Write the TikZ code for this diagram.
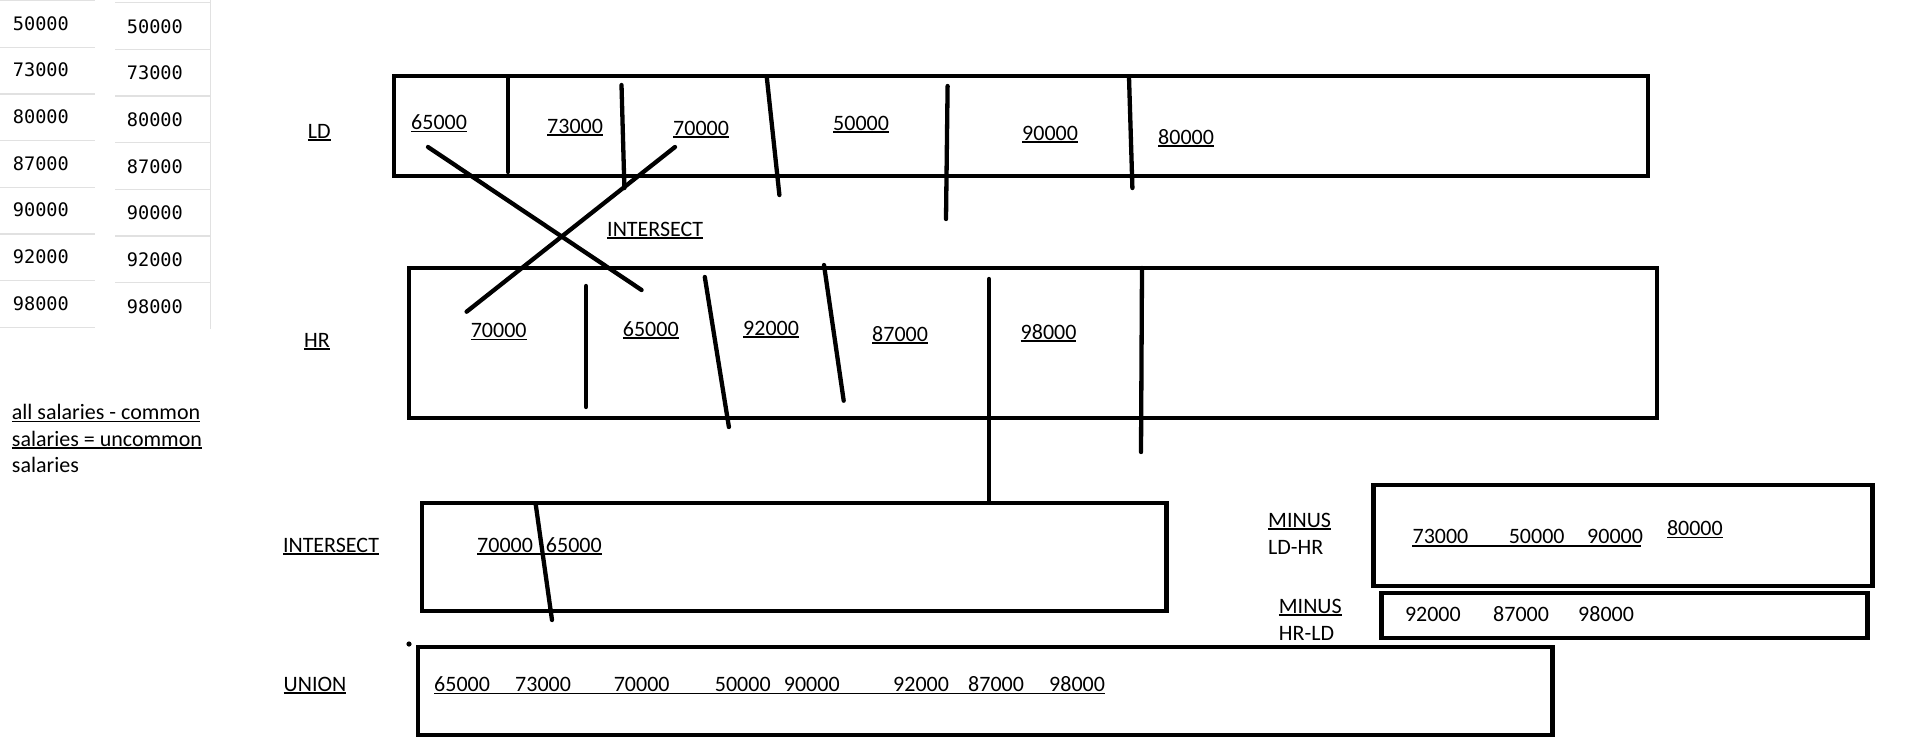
\documentclass[tikz,border=0pt]{standalone}
\usepackage{fontspec}
\setmainfont{Carlito}
\newfontfamily\monof{DejaVu Sans Mono}
\definecolor{tblline}{HTML}{E1E1E1}
\newcommand\ulx[1]{\setbox0=\hbox{#1}\rlap{\raisebox{-2.5pt}{\rule{\wd0}{1.3pt}}}\box0}
\begin{document}
\begin{tikzpicture}[x=1pt,y=-1pt,
  frame/.style={draw, rectangle, line width=4.3pt, inner sep=0pt, outer sep=0pt},
  stroke/.style={line width=4.3pt, line cap=round},
  lbl/.style={anchor=base west, inner sep=0pt, font=\fontsize{22}{27}\selectfont},
  tnum/.style={anchor=base west, inner sep=0pt, font=\monof\fontsize{18.6}{22}\selectfont},
  tline/.style={draw=tblline, line width=1.2pt}]
\useasboundingbox (0,0) rectangle (1914,740);

% ---- left tables ----
\foreach \v [count=\i from 0] in {50000,73000,80000,87000,90000,92000,98000}{
  \node[tnum] (ta\i) at (12.7,{30.1+46.67*\i}) {\v};
  \node[tnum] (tb\i) at (126.7,{33.0+46.67*\i}) {\v};
  \draw[tline] (0,{0.7+46.67*\i}) -- (95,{0.7+46.67*\i});
  \draw[tline] (115,{2.7+46.67*\i}) -- (210.7,{2.7+46.67*\i});
}
\draw[tline] (0,327.7) -- (95,327.7);
\draw[tline] (210.7,0) -- (210.7,329);

% ---- note ----
\node[lbl] (n1) at (11.7,419.5) {\ulx{all salaries - common}};
\node[lbl] (n2) at (11.7,446) {\ulx{salaries = uncommon}};
\node[lbl] (n3) at (11.7,472.7) {salaries};

% ---- boxes ----
\node[frame, minimum width=1254.3pt, minimum height=100pt] (ld) at (1020.9,125.7) {};
\node[frame, minimum width=1248pt, minimum height=150pt] (hr) at (1033,343) {};
\node[frame, minimum width=744.6pt, minimum height=108pt] (inter) at (794.2,556.7) {};
\node[frame, minimum width=1134.5pt, minimum height=88.3pt] (union) at (985.25,690.85) {};
\node[frame, minimum width=498.8pt, minimum height=101.3pt] (mld) at (1623,535.35) {};
\node[frame, minimum width=485.8pt, minimum height=45pt] (mhr) at (1624.5,615.8) {};

% ---- LD row ----
\node[lbl] (ldl) at (307.6,138) {\ulx{LD}};
\node[lbl] (l1) at (411,129.5) {\ulx{65000}};
\node[lbl] (l2) at (547,133) {\ulx{73000}};
\node[lbl] (l3) at (673,135) {\ulx{70000}};
\node[lbl] (l4) at (833,130) {\ulx{50000}};
\node[lbl] (l5) at (1022,140) {\ulx{90000}};
\node[lbl] (l6) at (1158,144) {\ulx{80000}};
\draw[stroke] (508,77) -- (508,172);
\draw[stroke] (621.5,85) -- (624.4,188);
\draw[stroke] (766.8,77.3) -- (779.4,195);
\draw[stroke] (947.6,86) -- (946,219);
\draw[stroke] (1129,77) -- (1132.4,188);

% ---- crossing lines ----
\coordinate (xa1) at (428,147);
\coordinate (xa2) at (641.6,290);
\coordinate (xb1) at (675,147);
\coordinate (xb2) at (466.6,311.7);
\draw[stroke] (xa1) -- (xa2);
\draw[stroke] (xb1) -- (xb2);
\node[lbl] (midint) at (607,236) {\ulx{INTERSECT}};

% ---- HR row ----
\node[lbl] (hrl) at (304,347) {\ulx{HR}};
\node[lbl] (h1) at (470.6,337.5) {\ulx{70000}};
\node[lbl] (h2) at (622.7,336) {\ulx{65000}};
\node[lbl] (h3) at (743,335) {\ulx{92000}};
\node[lbl] (h4) at (872,341) {\ulx{87000}};
\node[lbl] (h5) at (1020.5,339) {\ulx{98000}};
\draw[stroke] (586,286) -- (586,407);
\draw[stroke] (704.8,277) -- (728.9,427);
\draw[stroke] (824,265) -- (843.7,400.7);
\coordinate (hrd) at (989,279);
\draw[stroke] (hrd) -- (hrd |- inter.north);
\draw[stroke] (1142,268) -- (1141,452);

% ---- INTERSECT row ----
\node[lbl] (intl) at (282.8,552) {\ulx{INTERSECT}};
\node[lbl] (i1) at (477,552) {\ulx{70000\hspace{13pt}65000}};
\draw[stroke] (535.8,505) -- (552,620);

% ---- UNION row ----
\fill (409,644) circle (2.6pt);
\node[lbl] (unl) at (283.5,691) {\ulx{UNION}};
\node[lbl] (u1) at (434,691) {65000};
\node[lbl] (u2) at (515,691) {73000};
\node[lbl] (u3) at (613.6,691) {70000};
\node[lbl] (u4) at (714.7,691) {50000};
\node[lbl] (u5) at (783.7,691) {90000};
\node[lbl] (u6) at (893,691) {92000};
\node[lbl] (u7) at (968,691) {87000};
\node[lbl] (u8) at (1049,691) {98000};
\draw[line width=1.3pt] (434,693.4) -- (1104.5,693.4);

% ---- MINUS LD-HR ----
\node[lbl] (m1a) at (1268,527) {\ulx{MINUS}};
\node[lbl] (m1b) at (1268,554) {LD-HR};
\node[lbl] (p1) at (1412.4,543.5) {73000};
\node[lbl] (p2) at (1508.6,543.5) {50000};
\node[lbl] (p3) at (1587,543.5) {90000};
\draw[line width=1.3pt] (1412.4,545.9) -- (1641,545.9);
\node[lbl] (p4) at (1666.8,535.5) {\ulx{80000}};

% ---- MINUS HR-LD ----
\node[lbl] (m2a) at (1278.7,613) {\ulx{MINUS}};
\node[lbl] (m2b) at (1278.7,640) {HR-LD};
\node[lbl] (q1) at (1404.8,621.5) {92000};
\node[lbl] (q2) at (1493,621.5) {87000};
\node[lbl] (q3) at (1578,621.5) {98000};
\end{tikzpicture}
\end{document}
